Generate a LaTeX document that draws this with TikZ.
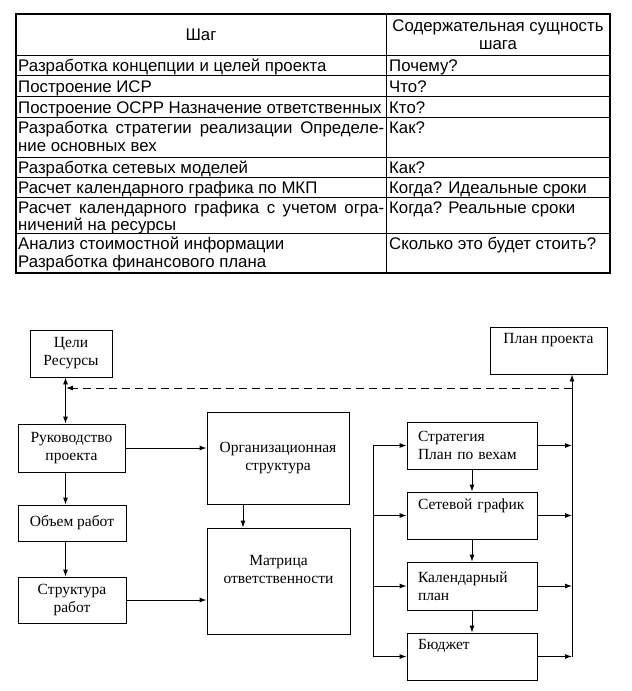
\documentclass[tikz,border=0pt]{standalone}
\usepackage{fontspec}
\setmainfont{Liberation Serif}
\newfontfamily\tabfont{Liberation Sans}
\usetikzlibrary{arrows.meta}
\begin{document}
\begin{tikzpicture}[x=1pt,y=-1pt,
  tcell/.style={anchor=base west, inner sep=0pt, font=\tabfont\fontsize{16.8}{18}\selectfont},
  tline/.style={line width=1pt},
  box/.style={draw, line width=0.9pt, inner sep=0pt, font=\fontsize{15.5}{18}\selectfont, align=center},
  lbox/.style={box, align=left, inner xsep=11pt, text width=108pt, minimum width=130pt, minimum height=47pt},
  arr/.style={line width=0.9pt, -{Latex[length=7pt,width=5pt]}},
  darr/.style={line width=0.9pt, {Latex[length=7pt,width=5pt]}-{Latex[length=7pt,width=5pt]}},
  plain/.style={line width=0.9pt},
  dash arr/.style={arr, dash pattern=on 8pt off 5pt}]
\useasboundingbox (0,0) rectangle (632,691);
\fill[white] (0,0) rectangle (632,691);

% ---------- table ----------
\draw[tline, line width=1.2pt] (16,14) rectangle (610,273);
\draw[tline] (386,14) -- (386,273);
\foreach \yy in {55,75.5,96.5,117,157,177,197,233}
  \draw[tline] (16,\yy) -- (610,\yy);

\node[tcell, anchor=base] (hL) at (201,40) {Шаг};
\node[tcell, anchor=base] (hR1) at (498,31) {Содержательная сущность};
\node[tcell, anchor=base] (hR2) at (498,49) {шага};

\node[tcell] (l1) at (18,71) {Разработка концепции и целей проекта};
\node[tcell] (r1) at (389,71) {Почему?};
\node[tcell] (l2) at (18,92) {Построение ИСР};
\node[tcell] (r2) at (389,92) {Что?};
\node[tcell] (l3) at (18,113) {Построение ОСРР Назначение ответственных};
\node[tcell] (r3) at (389,113) {Кто?};
\node[tcell] (l4a) at (18,133) {\makebox[366pt][s]{Разработка стратегии реализации Определе-}};
\node[tcell] (l4b) at (18,151) {ние основных вех};
\node[tcell] (r4) at (389,133) {Как?};
\node[tcell] (l5) at (18,173) {Разработка сетевых моделей};
\node[tcell] (r5) at (389,173) {Как?};
\node[tcell] (l6) at (18,193) {Расчет календарного графика по МКП};
\node[tcell] (r6) at (389,193) {Когда? Идеальные сроки};
\node[tcell] (l7a) at (18,213) {\makebox[366pt][s]{Расчет календарного графика с учетом огра-}};
\node[tcell] (l7b) at (18,230) {ничений на ресурсы};
\node[tcell] (r7) at (389,213) {Когда? Реальные сроки};
\node[tcell] (l8a) at (18,249) {Анализ стоимостной информации};
\node[tcell] (l8b) at (18,267) {Разработка финансового плана};
\node[tcell] (r8) at (389,249) {Сколько это будет стоить?};

% ---------- diagram ----------
\node[box, minimum width=82pt, minimum height=47pt] (celi) at (71,353.5) {Цели\\Ресурсы};
\node[box, minimum width=107pt, minimum height=48pt] (ruk) at (71.5,448) {Руководство\\проекта};
\node[box, minimum width=108pt, minimum height=36pt] (obem) at (72,523) {Объем работ};
\node[box, minimum width=108pt, minimum height=46pt] (struct) at (72,600) {Структура\\работ};
\node[box, minimum width=142pt, minimum height=92pt] (org) at (278,458) {Организационная\\структура};
\node[box, minimum width=143pt, minimum height=106pt] (matr) at (278.5,581) {Матрица\\ответственности\\\strut};
\node[box, minimum width=117pt, minimum height=47pt] (plan) at (548.5,350.5) {План проекта\\\strut};
\node[lbox] (strat) at (472,445.5) {Стратегия\\План по вехам};
\node[lbox] (setg) at (472,515.5) {Сетевой график\\\strut};
\node[lbox, minimum height=48pt] (kal) at (472,586) {Календарный\\план};
\node[lbox] (budg) at (472,656.5) {Бюджет\\\strut};

\coordinate (vx) at (65.5,0);
\coordinate (vx2) at (243,0);
\coordinate (busL) at (373,0);
\coordinate (busR) at (572,0);
\coordinate (dR) at (572,388);
\coordinate (dL) at (66,388);

\draw[darr] (celi.south -| vx) -- (ruk.north -| vx);
\draw[arr] (ruk.south -| vx) -- (obem.north -| vx);
\draw[arr] (obem.south -| vx) -- (struct.north -| vx);
\draw[arr] (ruk.east) -- (ruk.east -| org.west);
\draw[arr] (struct.east) -- (struct.east -| matr.west);
\draw[arr] (org.south -| vx2) -- (matr.north -| vx2);

\draw[arr] (strat.south) -- (setg.north);
\draw[arr] (setg.south) -- (kal.north);
\draw[arr] (kal.south) -- (budg.north);

\draw[plain] (strat.west -| busL) -- (budg.west -| busL);
\foreach \b in {strat,setg,kal,budg} {
  \draw[arr] (\b.west -| busL) -- (\b.west);
  \draw[arr] (\b.east) -- (\b.east -| busR);
}
\draw[arr] (budg.east -| busR) -- (plan.south -| busR);
\draw[dash arr] (dR) -- (dL);
\end{tikzpicture}
\end{document}
